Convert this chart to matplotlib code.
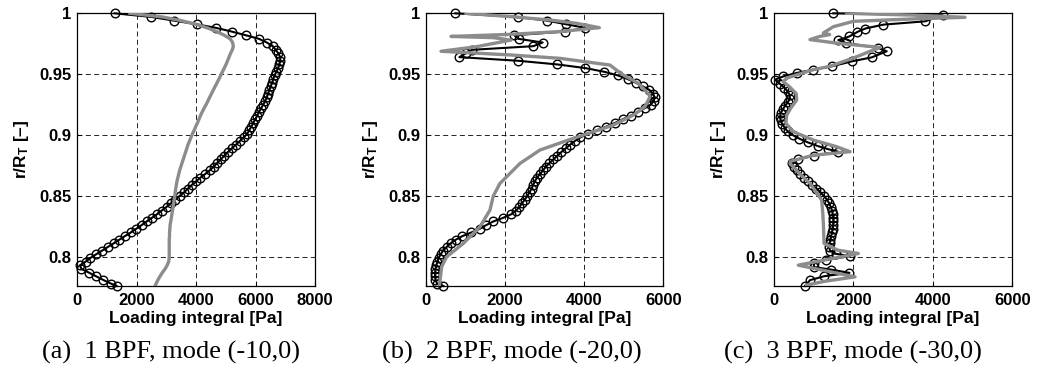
import matplotlib
matplotlib.use('Agg')
import matplotlib.pyplot as plt

# radial stations (r/R_T) shared by the circle series of (a) and (b)
r_grid = [1.000, 0.997, 0.994, 0.991, 0.988, 0.985, 0.982, 0.979, 0.976, 0.973,
          0.970, 0.967, 0.964, 0.961, 0.958, 0.955, 0.952, 0.949, 0.946, 0.943,
          0.940, 0.937, 0.934, 0.931, 0.928, 0.925, 0.922, 0.919, 0.916, 0.913,
          0.910, 0.907, 0.904, 0.901, 0.898, 0.895, 0.892, 0.889, 0.886, 0.883,
          0.880, 0.877, 0.874, 0.871, 0.868, 0.865, 0.862, 0.859, 0.856, 0.853,
          0.850, 0.847, 0.844, 0.841, 0.838, 0.835, 0.832, 0.829, 0.826, 0.823,
          0.820, 0.817, 0.814, 0.811, 0.808, 0.805, 0.802, 0.799, 0.796, 0.793,
          0.790, 0.787, 0.784, 0.781, 0.778, 0.776]

# (a) 1 BPF
load_circ_a = [1264, 2500, 3255, 4017, 4680, 5200, 5670, 6120, 6380, 6580,
               6680, 6770, 6830, 6835, 6800, 6760, 6700, 6640, 6600, 6560,
               6510, 6470, 6420, 6380, 6330, 6260, 6190, 6120, 6060, 5990,
               5927, 5860, 5790, 5720, 5600, 5470, 5340, 5200, 5070, 4950,
               4830, 4710, 4590, 4460, 4310, 4150, 4000, 3860, 3730, 3600,
               3450, 3300, 3160, 3010, 2850, 2690, 2520, 2340, 2170, 1990,
               1810, 1610, 1420, 1230, 1030, 840, 640, 450, 290, 100,
               150, 400, 640, 880, 1140, 1330]
load_gray_a = [1782, 2870, 3500, 4000, 4380, 4695, 4950, 5150, 5230, 5255,
               5220, 5160, 5110, 5060, 5010, 4950, 4890, 4830, 4770, 4710,
               4645, 4582, 4520, 4460, 4400, 4340, 4270, 4210, 4150, 4100,
               4050, 3990, 3940, 3880, 3830, 3780, 3730, 3690, 3650, 3610,
               3570, 3530, 3490, 3450, 3420, 3390, 3360, 3340, 3320, 3300,
               3290, 3270, 3250, 3230, 3210, 3190, 3170, 3150, 3130, 3120,
               3110, 3110, 3100, 3100, 3100, 3100, 3100, 3100, 3080, 3030,
               2960, 2870, 2790, 2720, 2660, 2620]

# (b) 2 BPF
load_circ_b = [742, 2320, 3050, 3550, 4029, 3523, 2233, 2343, 2950, 2714,
               1163, 1000, 843, 2335, 3320, 4030, 4500, 4850, 5100, 5300,
               5480, 5650, 5740, 5780, 5760, 5680, 5530, 5360, 5180, 4980,
               4780, 4560, 4330, 4100, 3900, 3760, 3640, 3530, 3420, 3320,
               3220, 3120, 3030, 2960, 2880, 2810, 2750, 2710, 2670, 2620,
               2560, 2500, 2430, 2360, 2280, 2160, 1950, 1700, 1520, 1360,
               1150, 920, 750, 620, 520, 430, 370, 320, 290, 260,
               240, 230, 230, 240, 280, 440]
r_gray_b = [1.000, 0.9973, 0.9945, 0.9918, 0.9882, 0.985, 0.9827, 0.981, 0.980, 0.978,
            0.9726, 0.9688, 0.9658, 0.963, 0.9575, 0.950, 0.9425, 0.934, 0.9315, 0.9233,
            0.9164, 0.9082, 0.9027, 0.8973, 0.8877, 0.8767, 0.8603, 0.850, 0.8384, 0.8247,
            0.811, 0.800, 0.7918, 0.776]
load_gray_b = [1011, 2124, 3135, 3800, 4383, 3388, 2124, 632, 1702, 2150,
               1281, 379, 2124, 3388, 4652, 4950, 5369, 5622, 5664, 5537,
               5242, 4737, 4231, 3725, 2882, 2377, 1871, 1702, 1618, 1365,
               944, 523, 396, 337]

# (c) 3 BPF
r_circ_c = [1.000, 0.9984, 0.9934, 0.9907, 0.9875, 0.9847, 0.981, 0.978, 0.9756, 0.9715,
            0.9688, 0.9638, 0.9605, 0.9564, 0.9537, 0.951, 0.9482, 0.9455, 0.942, 0.939,
            0.936, 0.933, 0.930, 0.927, 0.924, 0.921, 0.918, 0.915, 0.912, 0.909,
            0.906, 0.903, 0.900, 0.897, 0.894, 0.891, 0.8885, 0.8863, 0.883, 0.880,
            0.877, 0.874, 0.871, 0.868, 0.865, 0.862, 0.859, 0.856, 0.853, 0.850,
            0.847, 0.844, 0.841, 0.838, 0.835, 0.832, 0.829, 0.826, 0.823, 0.820,
            0.817, 0.814, 0.811, 0.808, 0.805, 0.8025, 0.8005, 0.7975, 0.7946, 0.7915,
            0.7895, 0.7868, 0.784, 0.7808, 0.776]
load_circ_c = [1494, 4247, 3804, 2754, 2300, 2099, 1898, 1620, 1813, 2628,
               2838, 2460, 1956, 1452, 990, 571, 235, 25, 150, 260,
               340, 395, 400, 350, 280, 220, 170, 151, 165, 210,
               270, 340, 470, 640, 850, 1100, 1350, 1620, 1000, 600,
               445, 500, 571, 660, 760, 850, 960, 1070, 1170, 1260,
               1330, 1390, 1430, 1460, 1480, 1495, 1495, 1490, 1475, 1460,
               1440, 1420, 1400, 1390, 1410, 1550, 1914, 1300, 1007, 1007,
               1427, 1900, 1259, 907, 781]
r_gray_c = [1.000, 0.9985, 0.9967, 0.9955, 0.9934, 0.989, 0.9838, 0.9825, 0.981, 0.9784,
            0.9755, 0.972, 0.9633, 0.9564, 0.9537, 0.9468, 0.9438, 0.940, 0.934, 0.9288,
            0.922, 0.9164, 0.9096, 0.9027, 0.8959, 0.8904, 0.8863, 0.8835, 0.8785, 0.8767,
            0.868, 0.8603, 0.8466, 0.835, 0.8274, 0.811, 0.8055, 0.8027, 0.7975, 0.7931,
            0.7885, 0.7835, 0.780, 0.7768]
load_gray_c = [1830, 3500, 4810, 3600, 2000, 1494, 1242, 1400, 1150, 906,
               1578, 2670, 2000, 1400, 990, 319, 230, 380, 560, 571,
               420, 319, 300, 487, 991, 1579, 1915, 1000, 420, 403,
               650, 907, 1200, 1230, 1243, 1260, 1600, 2124, 1300, 612,
               1300, 2040, 1300, 822]

captions = ['(a)  1 BPF, mode (-10,0)', '(b)  2 BPF, mode (-20,0)', '(c)  3 BPF, mode (-30,0)']
xmaxes = [8000, 6000, 6000]

plt.rcParams['font.family'] = 'Liberation Sans'
plt.rcParams['font.weight'] = 'bold'
plt.rcParams['mathtext.fontset'] = 'custom'
plt.rcParams['mathtext.bf'] = 'Liberation Sans:bold'
plt.rcParams['mathtext.default'] = 'bf'

fig = plt.figure(figsize=(10.38, 3.77), dpi=100)
W, H = 1038., 377.
lefts = [77, 426, 774]
widths = [238, 237.3, 238.3]
centers = [171, 512, 853]

panels = [(r_grid, load_circ_a, r_grid, load_gray_a),
          (r_grid, load_circ_b, r_gray_b, load_gray_b),
          (r_circ_c, load_circ_c, r_gray_c, load_gray_c)]

for i in range(3):
    rc, xc, rg, xg = panels[i]
    ax = fig.add_axes([lefts[i]/W, 1-286/H, widths[i]/W, (286-13.3)/H])
    ax.plot(xc, rc, '-', color='k', lw=1.5, marker='o', ms=6.2, mfc='none',
            mec='k', mew=1.0, clip_on=False, zorder=3)
    ax.plot(xg, rg, '-', color='#8c8c8c', lw=2.4, zorder=4)
    ax.set_xlim(0, xmaxes[i])
    ax.set_ylim(0.776, 1.0)
    ax.set_xticks(range(0, xmaxes[i]+1, 2000))
    ax.set_yticks([0.8, 0.85, 0.9, 0.95, 1.0])
    ax.set_yticklabels(['0.8', '0.85', '0.9', '0.95', '1'])
    ax.grid(True, color='k', ls=(0, (6, 4)), lw=0.6)
    ax.tick_params(direction='in', length=3, labelsize=12, width=0.8)
    ax.tick_params(axis='x', pad=5)
    ax.tick_params(axis='y', pad=4)
    for s in ax.spines.values():
        s.set_linewidth(0.9)
    ax.set_xlabel('Loading integral [Pa]', fontsize=12.5, fontweight='bold', labelpad=2)
    ax.set_ylabel(r'r/R$_{T}$ [–]', fontsize=12.5, fontweight='bold', labelpad=6)
    fig.text(centers[i]/W, 1-352/H, captions[i], family='Liberation Serif',
             fontweight='normal', fontsize=19, ha='center', va='center')

fig.savefig('out.png', dpi=100)
